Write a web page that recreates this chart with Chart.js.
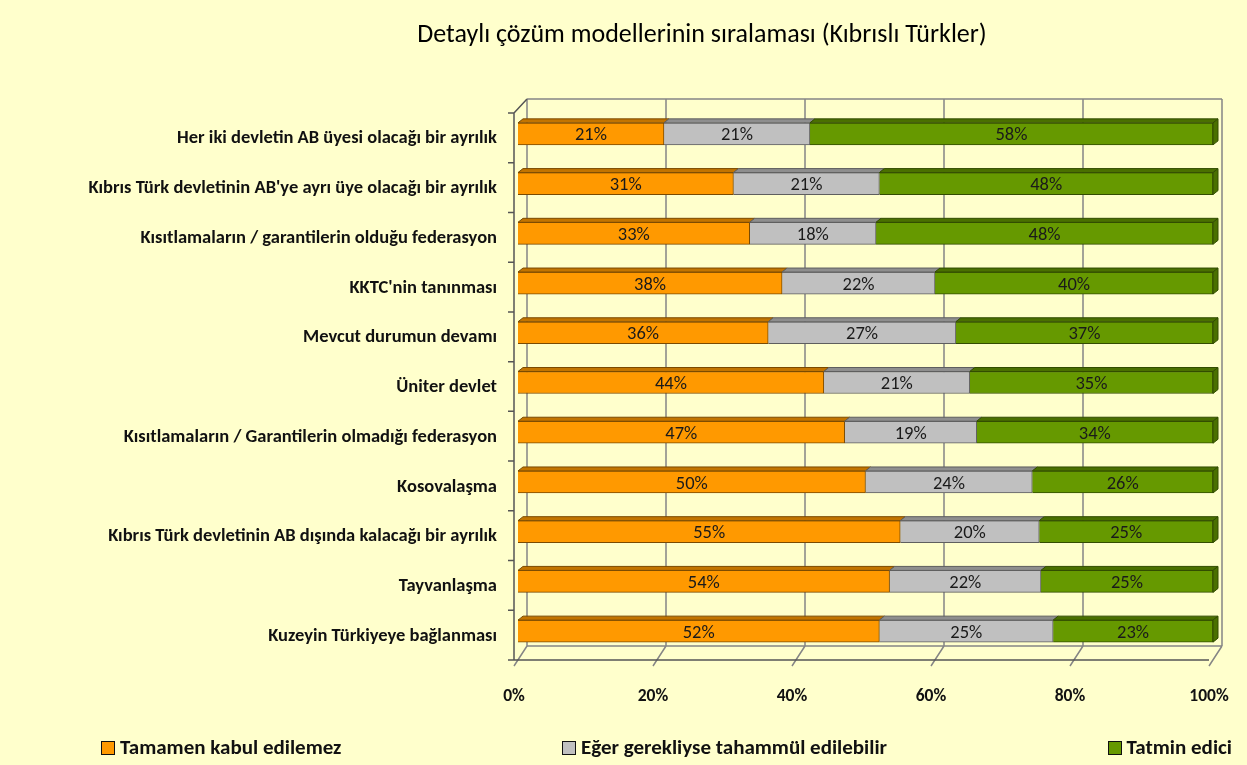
<!DOCTYPE html>
<html>
<head>
<meta charset="utf-8">
<script src="https://cdn.jsdelivr.net/npm/chart.js@4.4.1/dist/chart.umd.min.js"></script>
<style>
  html, body { margin: 0; padding: 0; background: #FFFFCC; }
  #wrap { position: relative; width: 1247px; height: 765px; background: #FFFFCC; }
  #title {
    position: absolute; left: 702px; top: 17px; transform: translateX(-50%);
    white-space: nowrap; color: #000;
    font-family: Carlito, "Liberation Sans Narrow", "Open Sans", sans-serif;
    font-size: 26px; line-height: 32px;
  }
  #legend {
    position: absolute; left: 101px; width: 1131px; top: 734px;
    display: flex; justify-content: space-between; align-items: center;
    font-family: Carlito, "Liberation Sans Narrow", "Open Sans", sans-serif;
    font-weight: bold; font-size: 21px; color: #111;
  }
  #legend span.box {
    display: inline-block; width: 12px; height: 12px; border: 1px solid #111;
    margin-right: 5px; vertical-align: -1px;
  }
</style>
</head>
<body>
<div id="wrap">
  <canvas id="chart" width="1247" height="765"></canvas>
  <div id="title">Detaylı çözüm modellerinin sıralaması (Kıbrıslı Türkler)</div>
  <div id="legend"></div>
</div>
<script>
// Kategorie (od góry do dołu)
const categories = [
  'Her iki devletin AB üyesi olacağı bir ayrılık',
  "Kıbrıs Türk devletinin AB'ye ayrı üye olacağı bir ayrılık",
  'Kısıtlamaların / garantilerin olduğu federasyon',
  "KKTC'nin tanınması",
  'Mevcut durumun devamı',
  'Üniter devlet',
  'Kısıtlamaların / Garantilerin olmadığı federasyon',
  'Kosovalaşma',
  'Kıbrıs Türk devletinin AB dışında kalacağı bir ayrılık',
  'Tayvanlaşma',
  'Kuzeyin Türkiyeye bağlanması'
];

// Wartości serii (%)
const notAcceptable = [21, 31, 33, 38, 36, 44, 47, 50, 55, 54, 52];
const tolerable     = [21, 21, 18, 22, 27, 21, 19, 24, 20, 22, 25];
const satisfactory  = [58, 48, 48, 40, 37, 35, 34, 26, 25, 25, 23];

const seriesNames = ['Tamamen kabul edilemez', 'Eğer gerekliyse tahammül edilebilir', 'Tatmin edici'];
const xTickValues = [0, 20, 40, 60, 80, 100];

const rawSeries = [notAcceptable, tolerable, satisfactory];
const fillColors = ['#FF9900', '#C0C0C0', '#669900'];
const topColors = ['#C27400', '#8E8E8E', '#4A7000'];
const edgeColors = ['#7A4A00', '#5E5E5E', '#324C00'];

const FONT = 'Carlito, "Liberation Sans Narrow", "Open Sans", sans-serif';

// Słupki są skalowane do 100% w każdym wierszu
const rowTotals = categories.map((_, i) => rawSeries.reduce((s, arr) => s + arr[i], 0));
const shares = arr => arr.map((v, i) => v / rowTotals[i] * 100);

// Przesunięcia płaszczyzn efektu 3D
const FRONT = { dx: -4, dy: 4 };
const BACK = { dx: 9, dy: -10 };
const DEPTH = { dx: 5, dy: -4 };

const wallsPlugin = {
  id: 'walls3d',
  beforeDatasetsDraw(chart) {
    const { ctx, chartArea, scales } = chart;
    const { left, right, top, bottom } = chartArea;
    const x = scales.x;
    ctx.save();
    ctx.strokeStyle = '#858585';
    ctx.lineWidth = 1.5;
    ctx.beginPath();
    // ściana tylna i podłoga
    xTickValues.forEach(v => {
      const px = x.getPixelForValue(v);
      ctx.moveTo(px + BACK.dx, top + BACK.dy);
      ctx.lineTo(px + BACK.dx, bottom + BACK.dy);
      ctx.moveTo(px + FRONT.dx, bottom + FRONT.dy + 6);
      ctx.lineTo(px + BACK.dx, bottom + BACK.dy);
    });
    ctx.moveTo(left + BACK.dx, top + BACK.dy);
    ctx.lineTo(right + BACK.dx, top + BACK.dy);
    ctx.moveTo(left + BACK.dx, bottom + BACK.dy);
    ctx.lineTo(right + BACK.dx, bottom + BACK.dy);
    ctx.stroke();

    // osie przednie
    ctx.strokeStyle = '#555';
    ctx.lineWidth = 1.5;
    ctx.beginPath();
    ctx.moveTo(left + FRONT.dx, top + FRONT.dy);
    ctx.lineTo(left + FRONT.dx, bottom + FRONT.dy);
    ctx.lineTo(right + FRONT.dx, bottom + FRONT.dy);
    ctx.moveTo(left + FRONT.dx, top + FRONT.dy);
    ctx.lineTo(left + BACK.dx, top + BACK.dy);
    const n = categories.length;
    for (let i = 0; i <= n; i++) {
      const py = top + i * (bottom - top) / n + FRONT.dy;
      ctx.moveTo(left + FRONT.dx - 6, py);
      ctx.lineTo(left + FRONT.dx, py);
    }
    ctx.stroke();
    ctx.restore();
  },
  afterDatasetsDraw(chart) {
    const { ctx } = chart;
    const last = chart.data.datasets.length - 1;
    ctx.save();
    chart.data.datasets.forEach((ds, di) => {
      const meta = chart.getDatasetMeta(di);
      meta.data.forEach((el, i) => {
        const { x, y, base, height } = el.getProps(['x', 'y', 'base', 'height'], true);
        const x0 = Math.min(base, x), x1 = Math.max(base, x);
        const t = y - height / 2, b = y + height / 2;
        // górna ściana
        ctx.beginPath();
        ctx.moveTo(x0, t);
        ctx.lineTo(x1, t);
        ctx.lineTo(x1 + DEPTH.dx, t + DEPTH.dy);
        ctx.lineTo(x0 + DEPTH.dx, t + DEPTH.dy);
        ctx.closePath();
        ctx.fillStyle = topColors[di];
        ctx.fill();
        ctx.strokeStyle = edgeColors[di];
        ctx.lineWidth = 1;
        ctx.stroke();
        // ściana boczna na końcu słupka
        if (di === last) {
          ctx.beginPath();
          ctx.moveTo(x1, t);
          ctx.lineTo(x1 + DEPTH.dx, t + DEPTH.dy);
          ctx.lineTo(x1 + DEPTH.dx, b + DEPTH.dy);
          ctx.lineTo(x1, b);
          ctx.closePath();
          ctx.fillStyle = topColors[di];
          ctx.fill();
          ctx.stroke();
        }
        // etykieta wartości
        ctx.fillStyle = '#1a1a1a';
        ctx.font = '18.5px ' + FONT;
        ctx.textAlign = 'center';
        ctx.textBaseline = 'middle';
        ctx.fillText(rawSeries[di][i] + '%', (x0 + x1) / 2, y + 2);
      });
    });
    ctx.restore();
  }
};

Chart.defaults.font.family = FONT;

const chart = new Chart(document.getElementById('chart').getContext('2d'), {
  type: 'bar',
  data: {
    labels: categories,
    datasets: rawSeries.map((arr, i) => ({
      label: seriesNames[i],
      data: shares(arr),
      backgroundColor: fillColors[i],
      borderColor: edgeColors[i],
      borderWidth: 1,
      barThickness: 22
    }))
  },
  options: {
    indexAxis: 'y',
    responsive: false,
    animation: false,
    layout: { padding: { top: 109, left: 0, right: 34, bottom: 0 } },
    scales: {
      x: {
        stacked: true,
        min: 0,
        max: 100,
        afterBuildTicks: s => { s.ticks = xTickValues.map(v => ({ value: v })); },
        afterFit: s => { s.height = 109; s.paddingLeft = 0; s.paddingRight = 0; },
        grid: { display: false, drawTicks: false },
        border: { display: false },
        ticks: {
          callback: v => v + '%',
          font: { size: 17.5, weight: 'bold' },
          color: '#111',
          padding: 30,
          labelOffset: -4
        }
      },
      y: {
        stacked: true,
        afterFit: s => { s.width = 518; },
        grid: { display: false, drawTicks: false },
        border: { display: false },
        ticks: {
          font: { size: 18.5, weight: 'bold' },
          color: '#111',
          padding: 21,
          labelOffset: 5
        }
      }
    },
    plugins: {
      legend: { display: false },
      tooltip: { enabled: false },
      title: { display: false }
    }
  },
  plugins: [wallsPlugin]
});

// Legenda HTML zbudowana z danych wykresu
const legendEl = document.getElementById('legend');
chart.data.datasets.forEach(ds => {
  const item = document.createElement('div');
  const box = document.createElement('span');
  box.className = 'box';
  box.style.background = ds.backgroundColor;
  item.appendChild(box);
  item.appendChild(document.createTextNode(ds.label));
  legendEl.appendChild(item);
});
</script>
</body>
</html>
